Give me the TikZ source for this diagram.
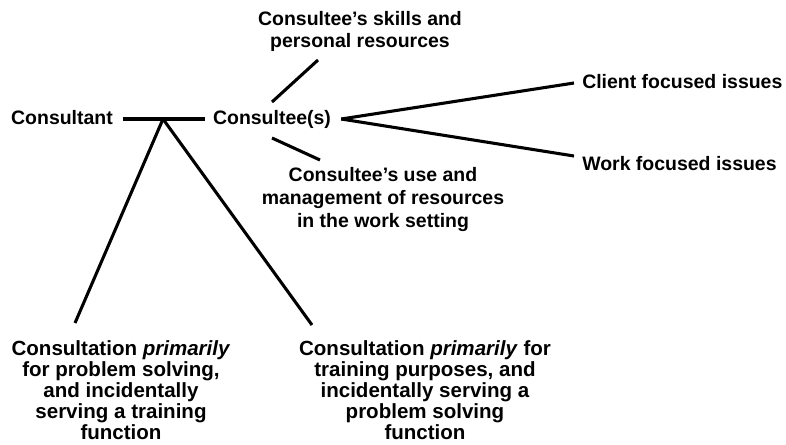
\documentclass[tikz,border=0pt]{standalone}
\usepackage{fontspec}
\setmainfont{Liberation Sans}
\usetikzlibrary{calc}
\begin{document}
\begin{tikzpicture}[x=0.75pt,y=-0.75pt,
  lbl/.style={font=\bfseries\fontsize{14.6}{17}\selectfont, inner sep=0pt, align=center},
  blbl/.style={font=\bfseries\fontsize{15.4}{15.75}\selectfont, inner sep=0pt, align=center},
  link/.style={line width=2.3pt}]
\useasboundingbox (0,0) rectangle (786,444);

% labels
\node[lbl] (consultant) at (62,117.5) {Consultant};
\node[lbl] (consultee) at (272,119) {Consultee(s)};
\node[lbl] (skills) at (360,31.5) {Consultee’s skills and\\personal resources};
\node[lbl] (usage) at (383,199.5) {Consultee’s use and\\management of resources\\in the work setting};
\node[lbl, anchor=west] (client) at (582,81.5) {Client focused issues};
\node[lbl, anchor=west] (work) at (582,163.5) {Work focused issues};
\node[blbl, anchor=north] (prob) at (121,340) {Consultation \textit{primarily}\\for problem solving,\\and incidentally\\serving a training\\function};
\node[blbl, anchor=north] (train) at (425,340) {Consultation \textit{primarily} for\\training purposes, and\\incidentally serving a\\problem solving\\function};

% connectors
\coordinate (j) at (163,119);
\draw[link] ([xshift=7.5pt]consultant.east |- j) -- ([xshift=-6pt]consultee.west |- j);
\draw[link] (j) -- ($(prob.north)+(-46,-17)$);
\draw[link] (j) -- ($(train.north)+(-113,-15)$);
\draw[link] ($(consultee.center)+(0,-17)$) -- ($(skills.center)+(-42,28.5)$);
\draw[link] ($(consultee.center)+(0,19)$) -- ($(usage.center)+(-63,-39.5)$);
\draw[link] ($(consultee.east)+(10,0)$) -- ($(client.west)+(-8,1.5)$);
\draw[link] ($(consultee.east)+(10,0)$) -- ($(work.west)+(-8,-7.5)$);
\end{tikzpicture}
\end{document}
